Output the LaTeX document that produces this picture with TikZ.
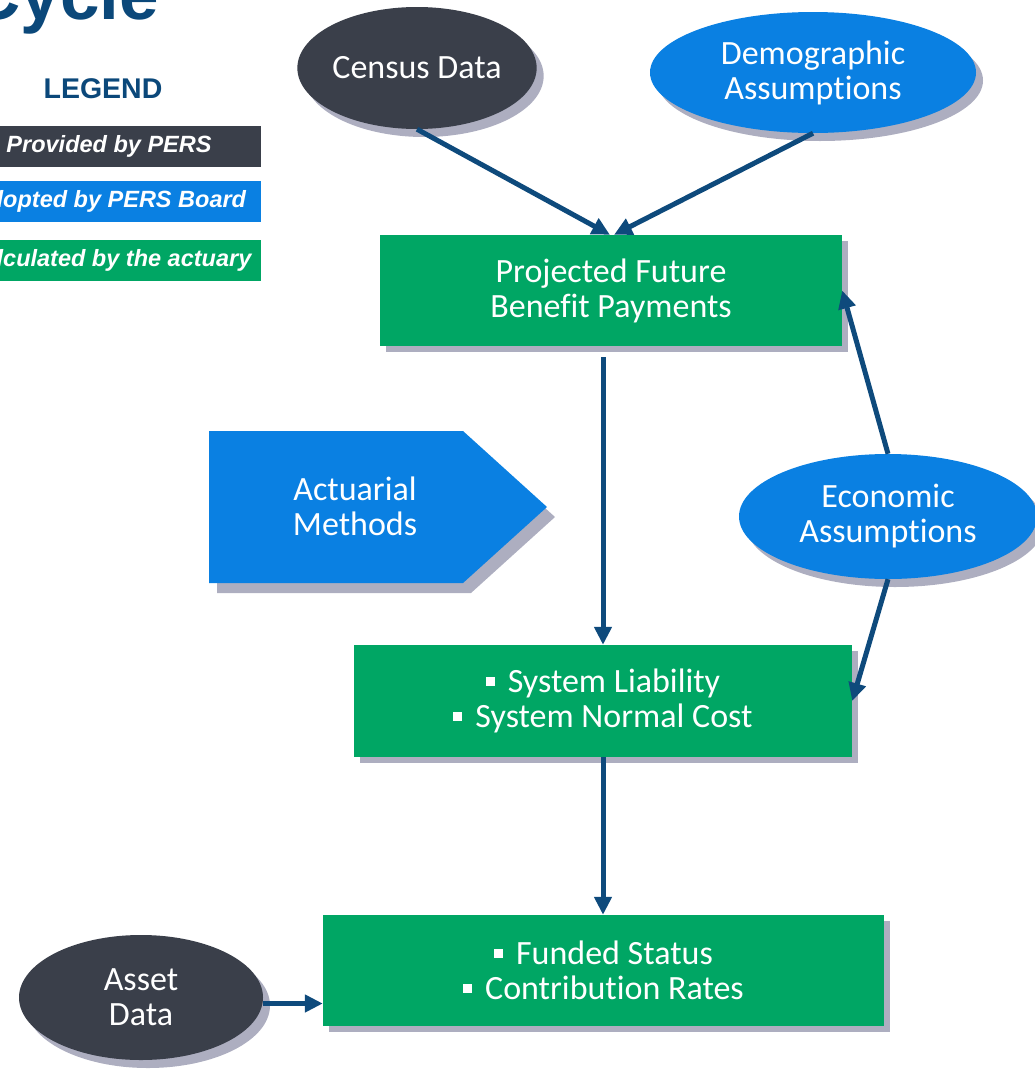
\documentclass[tikz,border=0pt]{standalone}
\usepackage{fontspec}
\setmainfont[Ligatures={NoCommon,NoContextual}]{Carlito}
\newfontfamily\arialf{Liberation Sans}
\usetikzlibrary{shapes.geometric,arrows.meta,shadows}
\definecolor{grn}{RGB}{0,166,100}
\definecolor{blu}{RGB}{10,128,226}
\definecolor{drk}{RGB}{58,63,74}
\definecolor{shd}{RGB}{173,174,192}
\definecolor{arc}{RGB}{14,74,124}
\definecolor{ttl}{RGB}{11,72,122}
\newcommand\sqb{\rule[7pt]{9pt}{9pt}\hspace{13pt}}
\newcommand\diagfont{\fontsize{34}{35}\selectfont}
\begin{document}
\begin{tikzpicture}[x=1pt,y=-1pt,
  bshad/.style={drop shadow={shadow xshift=6pt,shadow yshift=-6pt,fill=shd,opacity=1}},
  eshad/.style={drop shadow={shadow xshift=7pt,shadow yshift=-8pt,fill=shd,opacity=1}},
  gbox/.style={rectangle,fill=grn,text=white,inner sep=0pt,font=\diagfont,align=center,bshad},
  ell/.style={ellipse,inner sep=0pt,text=white,font=\diagfont,align=center,eshad},
  legbox/.style={rectangle,inner sep=0pt,minimum width=304pt,minimum height=41pt,text=white,
    font=\arialf\bfseries\itshape\fontsize{23.5}{25}\selectfont},
  arr/.style={draw=arc,line width=5pt,-{Triangle[length=18pt,width=17pt]}}]
\useasboundingbox (0,0) rectangle (1035,1071);

% title and legend
\node[anchor=base east,inner sep=0pt,text=ttl,font=\arialf\bfseries\fontsize{71}{75}\selectfont] (title) at (159,19) {Cycle};
\node[text=ttl,inner sep=0pt,font=\arialf\bfseries\fontsize{28.5}{30}\selectfont] (legend) at (103,89) {LEGEND};
\node[legbox,fill=drk] (l1) at (109,146.5) {Provided by PERS};
\node[legbox,fill=blu] (l2) at (109,201.5) {Adopted by PERS Board};
\node[legbox,fill=grn] (l3) at (109,260.5) {Calculated by the actuary};

% ellipses
\node[ell,fill=drk,minimum width=230pt,minimum height=122pt] (census) at (417,68) {Census Data};
\node[ell,fill=blu,minimum width=326pt,minimum height=121pt] (demo) at (813,72.5) {Demographic\\Assumpt\kern0pt ions};
\node[ell,fill=blu,minimum width=298pt,minimum height=125pt] (econ) at (888,516.5) {Economic\\Assumpt\kern0pt ions};
\node[ell,fill=drk,minimum width=244pt,minimum height=125pt] (asset) at (141,997.5) {Asset\\Data};

% boxes
\node[gbox,minimum width=462pt,minimum height=111pt] (box1) at (611,290.5) {Projected Future\\Benefit Payments};
\node[gbox,minimum width=498pt,minimum height=112pt] (box2) at (603,701) {\sqb System Liability\\\sqb System Normal Cost};
\node[gbox,minimum width=561pt,minimum height=111pt] (box3) at (603.5,970.5) {\sqb Funded Status\\\sqb Contribution Rates};

% actuarial methods pentagon
\fill[blu,drop shadow={shadow xshift=8pt,shadow yshift=-10pt,fill=shd,opacity=1}]
  (209,431) -- (463,431) -- (547,507) -- (463,583) -- (209,583) -- cycle;
\node[text=white,font=\diagfont,align=center] (act) at (355,506) {Actuarial\\Methods};

% connectors
\draw[arr] (census.south) -- ([xshift=-1pt]box1.north);
\draw[arr] (demo.south) -- ([xshift=3pt]box1.north);
\draw[arr,shorten <=11pt] (box1.south -| box2.north) -- (box2.north);
\draw[arr] (econ.north) -- (box1.east);
\draw[arr] (econ.south) -- (box2.east);
\draw[arr] (box2.south) -- (box2.south |- box3.north);
\draw[arr] ([yshift=-6pt]asset.east) -- ([yshift=-6pt]asset.east -| box3.west);
\end{tikzpicture}
\end{document}
